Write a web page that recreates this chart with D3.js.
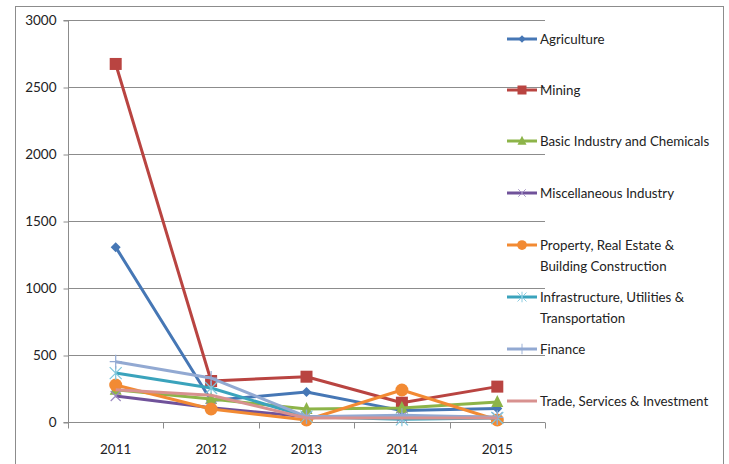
<!DOCTYPE html>
<html>
<head>
<meta charset="utf-8">
<script src="https://cdn.jsdelivr.net/npm/d3@7"></script>
<style>
  body { margin: 0; background: #fff; }
  text { font-family: Lato, "Open Sans", sans-serif; fill: #222; }
</style>
</head>
<body>
<div class="chart"></div>
<script>
var years = ["2011", "2012", "2013", "2014", "2015"];
var yTicks = [0, 500, 1000, 1500, 2000, 2500, 3000];

var agriculture    = [1305, 160, 224, 85, 100];
var mining         = [2672, 306, 338, 144, 264];
var basicIndustry  = [240, 171, 97, 104, 150];
var miscIndustry   = [194, 107, 40, 40, 35];
var property       = [276, 97, 15, 239, 15];
var infrastructure = [365, 254, 40, 20, 30];
var finance        = [450, 328, 40, 50, 35];
var trade          = [240, 200, 30, 30, 30];

var seriesNames = ["Agriculture", "Mining", "Basic Industry and Chemicals", "Miscellaneous Industry",
  "Property, Real Estate & Building Construction", "Infrastructure, Utilities & Transportation",
  "Finance", "Trade, Services & Investment"];
var legendLines = [["Agriculture"], ["Mining"], ["Basic Industry and Chemicals"], ["Miscellaneous Industry"],
  ["Property, Real Estate &", "Building Construction"], ["Infrastructure, Utilities &", "Transportation"],
  ["Finance"], ["Trade, Services & Investment"]];
var seriesValues = [agriculture, mining, basicIndustry, miscIndustry, property, infrastructure, finance, trade];
var colors = ["#4677B5", "#B94441", "#8DB449", "#70529A", "#F28A33", "#3AA3BC", "#92A9D2", "#D8918F"];
var markers = ["diamond", "square", "triangle", "x", "circle", "star", "plus", "none"];

var width = 729, height = 464;
var margin = {top: 20, left: 68, right: 184, bottom: 42};

var svg = d3.select("div.chart").append("svg")
    .attr("width", width)
    .attr("height", height);

// outer frame
svg.append("rect")
    .attr("x", 15.5).attr("y", 6.5)
    .attr("width", 708).attr("height", 480)
    .attr("fill", "none")
    .attr("stroke", "#8c8c8c");

var x = d3.scaleBand()
    .domain(years)
    .range([margin.left, width - margin.right]);

var y = d3.scaleLinear()
    .domain([0, 3000])
    .range([height - margin.bottom, margin.top]);

// gridlines
svg.append("g")
    .selectAll("line")
    .data(yTicks.slice(1))
    .join("line")
    .attr("x1", margin.left)
    .attr("x2", width - margin.right)
    .attr("y1", d => Math.round(y(d)) + 0.5)
    .attr("y2", d => Math.round(y(d)) + 0.5)
    .attr("stroke", "#8c8c8c");

// y axis
var yAxis = svg.append("g")
    .attr("transform", "translate(" + (margin.left + 0.5) + ",0.5)")
    .call(d3.axisLeft(y).tickValues(yTicks).tickFormat(d3.format("d")).tickSize(5).tickPadding(7));
yAxis.selectAll("line, path").attr("stroke", "#8c8c8c");
yAxis.selectAll("text").style("font-size", "13.5px").attr("fill", "#222");
yAxis.select(".domain").attr("d", "M-5," + y(3000) + "H0V" + y(0) + "H-5");

// x axis
var xAxis = svg.append("g")
    .attr("transform", "translate(0," + (Math.round(y(0)) + 0.5) + ")");
xAxis.append("line")
    .attr("x1", margin.left).attr("x2", width - margin.right)
    .attr("stroke", "#8c8c8c");
xAxis.selectAll("line.tick")
    .data(years.concat(["end"]))
    .join("line")
    .attr("class", "tick")
    .attr("x1", (d, i) => Math.round(margin.left + i * x.step()) + 0.5)
    .attr("x2", (d, i) => Math.round(margin.left + i * x.step()) + 0.5)
    .attr("y1", 0).attr("y2", 6)
    .attr("stroke", "#8c8c8c");
xAxis.selectAll("text")
    .data(years)
    .join("text")
    .attr("x", d => x(d) + x.bandwidth() / 2)
    .attr("y", 31)
    .attr("text-anchor", "middle")
    .style("font-size", "13.5px")
    .text(d => d);

function drawMarker(g, type, color) {
  if (type == "diamond") {
    g.append("path").attr("d", "M0,-5L5,0L0,5L-5,0Z").attr("fill", color);
  } else if (type == "square") {
    g.append("rect").attr("x", -6).attr("y", -6).attr("width", 12).attr("height", 12).attr("fill", color);
  } else if (type == "triangle") {
    g.append("path").attr("d", "M0,-7L6,5L-6,5Z").attr("fill", color);
  } else if (type == "x") {
    g.append("path").attr("d", "M-5,-5L5,5M-5,5L5,-5").attr("stroke", "#9d8ac0").attr("stroke-width", 1.2);
  } else if (type == "circle") {
    g.append("circle").attr("r", 6.5).attr("fill", color);
  } else if (type == "star") {
    g.append("path").attr("d", "M-6,-6L6,6M-6,6L6,-6M0,-7V7").attr("stroke", "#7fc6dc").attr("stroke-width", 1.2);
  } else if (type == "plus") {
    g.append("path").attr("d", "M0,-7V7M-6,0H6").attr("stroke", color).attr("stroke-width", 1.2);
  }
}

var line = d3.line()
    .x((d, i) => x(years[i]) + x.bandwidth() / 2)
    .y(d => y(d));

seriesValues.forEach(function(vals, s) {
  svg.append("path")
      .datum(vals)
      .attr("d", line)
      .attr("fill", "none")
      .attr("stroke", colors[s])
      .attr("stroke-width", 3)
      .attr("stroke-linejoin", "round");
  vals.forEach(function(v, i) {
    var g = svg.append("g")
        .attr("transform", "translate(" + (x(years[i]) + x.bandwidth() / 2) + "," + y(v) + ")");
    drawMarker(g, markers[s], colors[s]);
  });
});

// legend
var legendY = [39, 90, 141, 193, 245, 297, 349, 401];
seriesNames.forEach(function(name, s) {
  var g = svg.append("g")
      .attr("transform", "translate(507," + legendY[s] + ")");
  g.append("line")
      .attr("x1", 0).attr("x2", 30)
      .attr("stroke", colors[s])
      .attr("stroke-width", 3);
  var mk = g.append("g").attr("transform", "translate(15,0) scale(0.75)");
  drawMarker(mk, markers[s], colors[s]);
  legendLines[s].forEach(function(t, k) {
    g.append("text")
        .attr("x", 33)
        .attr("y", 5 + k * 21)
        .style("font-size", "13.3px")
        .text(t);
  });
});
</script>
</body>
</html>
